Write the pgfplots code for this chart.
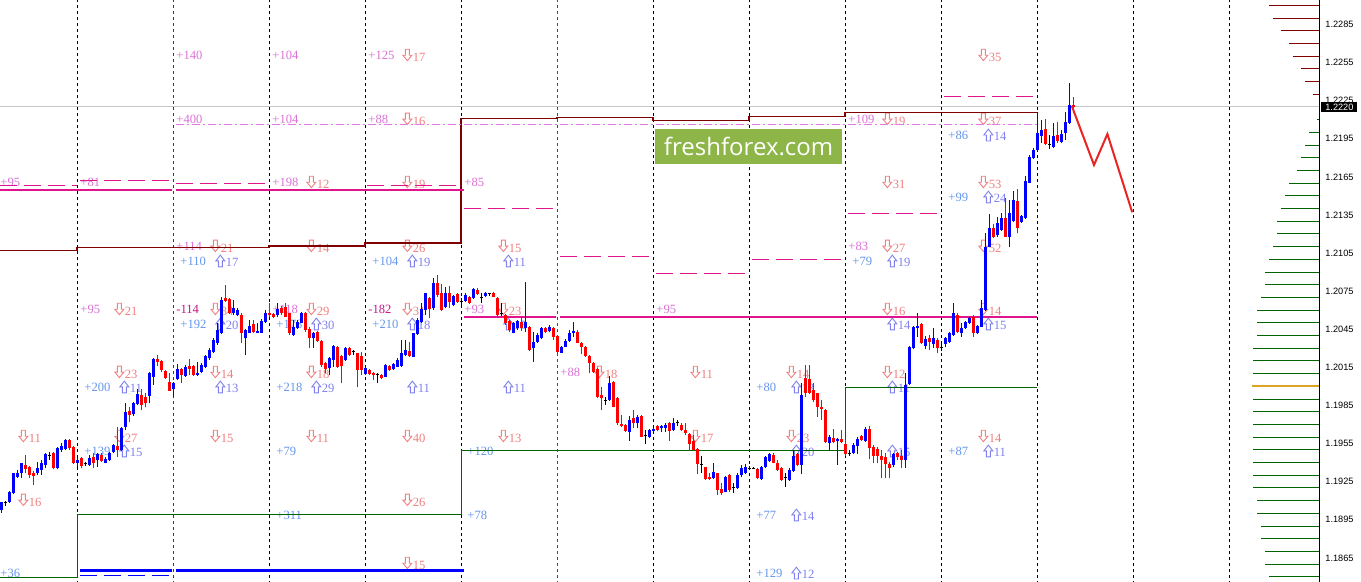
\documentclass[border=0pt]{standalone}
\usepackage{fontspec}
\setmainfont{Liberation Serif}
\newfontfamily\tickf{Liberation Sans}
\newfontfamily\wmf{Open Sans}
\usepackage{pgfplots}
\usepackage{pgfplotstable}
\pgfplotsset{compat=1.18}

\definecolor{cv}{HTML}{DA70D6}
\definecolor{cc}{HTML}{F08080}
\definecolor{cb}{HTML}{6495ED}
\definecolor{ca}{HTML}{8080F0}
\definecolor{cm}{HTML}{C71585}
\definecolor{mag}{HTML}{E0148C}
\definecolor{viol}{HTML}{E478E4}
\definecolor{mar}{HTML}{800000}
\definecolor{dg}{HTML}{006400}
\definecolor{wmc}{HTML}{8DB547}
\definecolor{gold}{HTML}{DAA520}

\newcommand{\labf}{\fontsize{6.3}{7}\selectfont}
\newcommand{\tickfont}{\tickf\fontsize{4.6}{5}\selectfont}
% hollow arrows drawn in front of the counts
\newcommand{\darr}{\tikz[baseline=0pt,x=1pt,y=1pt]\draw[cc,line width=0.45pt,line join=miter]
  (1.25,6)--(3.25,6)--(3.25,3)--(4.5,3)--(2.25,0.3)--(0,3)--(1.25,3)--cycle;\hspace{0.3pt}}
\newcommand{\uarr}{\tikz[baseline=0pt,x=1pt,y=1pt]\draw[ca,line width=0.45pt,line join=miter]
  (1.25,0)--(3.25,0)--(3.25,3)--(4.5,3)--(2.25,5.9)--(0,3)--(1.25,3)--cycle;\hspace{0.3pt}}

\tikzset{
  tv/.style={anchor=west, inner sep=0pt, font=\labf, text=cv},
  tc/.style={anchor=west, inner sep=0pt, font=\labf, text=cc},
  tb/.style={anchor=west, inner sep=0pt, font=\labf, text=cb},
  ta/.style={anchor=west, inner sep=0pt, font=\labf, text=ca},
  tm/.style={anchor=west, inner sep=0pt, font=\labf, text=cm},
  dsh/.style={mag, line width=0.5pt, dash pattern=on 8.5pt off 3.5pt},
}
\pgfplotsset{
  nomark/.style={only marks, mark=*, mark size=0pt, mark options={draw=none, fill=none}, forget plot},
}

% hourly bars: index, open, high, low, close
\pgfplotstableread{
i o h l c
0 1.19027 1.19092 1.19005 1.19092
1 1.19084 1.19100 1.19061 1.19084
2 1.19092 1.19179 1.19084 1.19171
3 1.19158 1.19321 1.19153 1.19316
4 1.19289 1.19342 1.19279 1.19321
5 1.19316 1.19399 1.19276 1.19394
6 1.19381 1.19460 1.19316 1.19347
7 1.19368 1.19373 1.19276 1.19302
8 1.19321 1.19336 1.19224 1.19295
9 1.19316 1.19407 1.19302 1.19360
10 1.19342 1.19420 1.19302 1.19399
11 1.19381 1.19473 1.19355 1.19465
12 1.19454 1.19486 1.19420 1.19454
13 1.19473 1.19486 1.19347 1.19355
14 1.19355 1.19525 1.19347 1.19513
15 1.19499 1.19552 1.19486 1.19531
16 1.19505 1.19583 1.19499 1.19578
17 1.19578 1.19583 1.19499 1.19513
18 1.19525 1.19531 1.19389 1.19394
19 1.19399 1.19434 1.19368 1.19420
20 1.19434 1.19447 1.19355 1.19373
21 1.19389 1.19405 1.19373 1.19389
22 1.19381 1.19460 1.19373 1.19434
23 1.19447 1.19473 1.19355 1.19399
24 1.19420 1.19478 1.19368 1.19468
25 1.19460 1.19473 1.19407 1.19415
26 1.19399 1.19442 1.19399 1.19426
27 1.19420 1.19486 1.19415 1.19473
28 1.19486 1.19547 1.19473 1.19539
29 1.19531 1.19679 1.19444 1.19499
30 1.19499 1.19678 1.19494 1.19670
31 1.19678 1.19867 1.19657 1.19801
32 1.19809 1.19840 1.19722 1.19775
33 1.19783 1.19880 1.19767 1.19867
34 1.19861 1.19977 1.19854 1.19940
35 1.19932 1.19977 1.19814 1.19854
36 1.19919 1.19946 1.19835 1.19867
37 1.19924 1.20116 1.19867 1.20103
38 1.20076 1.20221 1.20011 1.20213
39 1.20213 1.20247 1.20161 1.20194
40 1.20202 1.20208 1.20114 1.20129
41 1.20124 1.20129 1.20058 1.20064
42 1.20037 1.20103 1.19966 1.19966
43 1.19977 1.20037 1.19914 1.20029
44 1.20056 1.20176 1.20050 1.20135
45 1.20135 1.20145 1.20027 1.20090
46 1.20082 1.20172 1.20076 1.20153
47 1.20161 1.20213 1.20090 1.20135
48 1.20161 1.20169 1.20082 1.20090
49 1.20090 1.20194 1.20082 1.20108
50 1.20116 1.20183 1.20108 1.20169
51 1.20155 1.20250 1.20145 1.20240
52 1.20221 1.20302 1.20208 1.20287
53 1.20273 1.20379 1.20261 1.20365
54 1.20339 1.20497 1.20326 1.20444
55 1.20418 1.20706 1.20413 1.20680
56 1.20694 1.20798 1.20667 1.20675
57 1.20686 1.20694 1.20570 1.20576
58 1.20576 1.20680 1.20562 1.20615
59 1.20562 1.20615 1.20554 1.20602
60 1.20562 1.20580 1.20339 1.20418
61 1.20379 1.20450 1.20247 1.20444
62 1.20423 1.20523 1.20418 1.20476
63 1.20491 1.20523 1.20420 1.20431
64 1.20423 1.20502 1.20418 1.20439
65 1.20423 1.20531 1.20418 1.20517
66 1.20509 1.20602 1.20502 1.20580
67 1.20580 1.20657 1.20549 1.20562
68 1.20570 1.20580 1.20536 1.20549
69 1.20562 1.20654 1.20549 1.20607
70 1.20615 1.20633 1.20562 1.20576
71 1.20628 1.20654 1.20544 1.20549
72 1.20576 1.20580 1.20405 1.20418
73 1.20405 1.20523 1.20397 1.20470
74 1.20457 1.20523 1.20450 1.20509
75 1.20502 1.20588 1.20497 1.20580
76 1.20580 1.20588 1.20431 1.20444
77 1.20449 1.20470 1.20300 1.20379
78 1.20379 1.20431 1.20300 1.20418
79 1.20431 1.20439 1.20352 1.20360
80 1.20360 1.20365 1.20155 1.20169
81 1.20182 1.20194 1.20103 1.20135
82 1.20142 1.20234 1.20090 1.20221
83 1.20208 1.20326 1.20155 1.20318
84 1.20313 1.20318 1.20145 1.20155
85 1.20240 1.20247 1.20024 1.20161
86 1.20208 1.20313 1.20202 1.20300
87 1.20300 1.20313 1.20240 1.20247
88 1.20273 1.20287 1.20247 1.20273
89 1.20261 1.20266 1.19993 1.20129
90 1.20240 1.20271 1.20090 1.20129
91 1.20098 1.20150 1.20090 1.20142
92 1.20129 1.20137 1.20090 1.20098
93 1.20108 1.20116 1.20050 1.20090
94 1.20090 1.20103 1.20029 1.20090
95 1.20090 1.20098 1.20056 1.20064
96 1.20076 1.20176 1.20071 1.20169
97 1.20161 1.20169 1.20124 1.20129
98 1.20135 1.20187 1.20129 1.20176
99 1.20155 1.20221 1.20150 1.20208
100 1.20161 1.20365 1.20155 1.20266
101 1.20247 1.20365 1.20239 1.20287
102 1.20281 1.20352 1.20234 1.20240
103 1.20234 1.20423 1.20229 1.20418
104 1.20413 1.20536 1.20405 1.20523
105 1.20509 1.20654 1.20502 1.20607
106 1.20602 1.20738 1.20562 1.20733
107 1.20694 1.20702 1.20536 1.20607
108 1.20615 1.20851 1.20602 1.20812
109 1.20816 1.20877 1.20706 1.20720
110 1.20738 1.20806 1.20596 1.20602
111 1.20628 1.20785 1.20615 1.20733
112 1.20733 1.20790 1.20615 1.20667
113 1.20641 1.20720 1.20633 1.20712
114 1.20728 1.20733 1.20659 1.20667
115 1.20667 1.20694 1.20641 1.20667
116 1.20675 1.20733 1.20667 1.20720
117 1.20702 1.20712 1.20649 1.20654
118 1.20694 1.20772 1.20686 1.20764
119 1.20759 1.20772 1.20720 1.20728
120 1.20702 1.20733 1.20659 1.20702
121 1.20712 1.20746 1.20702 1.20738
122 1.20728 1.20738 1.20712 1.20728
123 1.20738 1.20746 1.20702 1.20706
124 1.20694 1.20702 1.20554 1.20562
125 1.20576 1.20660 1.20554 1.20576
126 1.20562 1.20570 1.20483 1.20497
127 1.20517 1.20523 1.20431 1.20444
128 1.20423 1.20509 1.20418 1.20497
129 1.20457 1.20523 1.20444 1.20517
130 1.20509 1.20549 1.20439 1.20457
131 1.20457 1.20825 1.20431 1.20509
132 1.20470 1.20476 1.20281 1.20287
133 1.20300 1.20431 1.20194 1.20352
134 1.20352 1.20418 1.20345 1.20405
135 1.20379 1.20470 1.20371 1.20457
136 1.20457 1.20470 1.20423 1.20431
137 1.20439 1.20483 1.20431 1.20470
138 1.20457 1.20470 1.20365 1.20392
139 1.20397 1.20405 1.20263 1.20271
140 1.20266 1.20318 1.20261 1.20313
141 1.20313 1.20371 1.20308 1.20360
142 1.20360 1.20444 1.20352 1.20423
143 1.20423 1.20509 1.20392 1.20439
144 1.20431 1.20444 1.20339 1.20344
145 1.20344 1.20352 1.20255 1.20313
146 1.20313 1.20318 1.20234 1.20240
147 1.20240 1.20247 1.20103 1.20187
148 1.20182 1.20194 1.20108 1.20116
149 1.20135 1.20142 1.19906 1.19914
150 1.19932 1.19998 1.19814 1.19906
151 1.19887 1.19919 1.19854 1.19887
152 1.19893 1.20082 1.19887 1.20029
153 1.20037 1.20045 1.19835 1.19840
154 1.19906 1.19914 1.19696 1.19709
155 1.19704 1.19775 1.19678 1.19688
156 1.19696 1.19704 1.19643 1.19651
157 1.19643 1.19767 1.19572 1.19735
158 1.19749 1.19814 1.19670 1.19709
159 1.19709 1.19775 1.19670 1.19757
160 1.19767 1.19775 1.19599 1.19604
161 1.19617 1.19657 1.19547 1.19617
162 1.19600 1.19665 1.19592 1.19657
163 1.19651 1.19670 1.19643 1.19662
164 1.19688 1.19696 1.19651 1.19657
165 1.19670 1.19696 1.19643 1.19688
166 1.19670 1.19709 1.19643 1.19696
167 1.19709 1.19722 1.19572 1.19651
168 1.19657 1.19749 1.19651 1.19714
169 1.19714 1.19735 1.19690 1.19714
170 1.19696 1.19709 1.19651 1.19657
171 1.19657 1.19709 1.19617 1.19631
172 1.19625 1.19635 1.19494 1.19547
173 1.19567 1.19617 1.19494 1.19499
174 1.19505 1.19513 1.19310 1.19389
175 1.19381 1.19452 1.19316 1.19381
176 1.19363 1.19368 1.19263 1.19268
177 1.19284 1.19316 1.19263 1.19268
178 1.19276 1.19394 1.19268 1.19329
179 1.19316 1.19321 1.19145 1.19184
180 1.19189 1.19242 1.19145 1.19158
181 1.19171 1.19295 1.19166 1.19289
182 1.19302 1.19310 1.19171 1.19184
183 1.19205 1.19242 1.19163 1.19205
184 1.19198 1.19316 1.19190 1.19302
185 1.19302 1.19381 1.19284 1.19355
186 1.19316 1.19389 1.19310 1.19368
187 1.19355 1.19373 1.19342 1.19355
188 1.19355 1.19368 1.19347 1.19355
189 1.19347 1.19355 1.19268 1.19276
190 1.19268 1.19373 1.19263 1.19368
191 1.19363 1.19452 1.19355 1.19442
192 1.19415 1.19478 1.19407 1.19468
193 1.19460 1.19473 1.19394 1.19399
194 1.19394 1.19420 1.19336 1.19342
195 1.19355 1.19363 1.19257 1.19263
196 1.19284 1.19321 1.19210 1.19284
197 1.19263 1.19355 1.19257 1.19342
198 1.19336 1.19499 1.19329 1.19452
199 1.19468 1.19478 1.19373 1.19381
200 1.19381 1.20024 1.19310 1.19932
201 1.20064 1.20169 1.19919 1.19946
202 1.20056 1.20169 1.19940 1.19951
203 1.19972 1.20024 1.19880 1.19893
204 1.19946 1.19951 1.19761 1.19840
205 1.19840 1.19893 1.19735 1.19820
206 1.19814 1.19820 1.19557 1.19565
207 1.19557 1.19617 1.19494 1.19600
208 1.19592 1.19662 1.19552 1.19565
209 1.19573 1.19592 1.19381 1.19584
210 1.19584 1.19654 1.19557 1.19565
211 1.19547 1.19578 1.19452 1.19468
212 1.19473 1.19499 1.19452 1.19473
213 1.19478 1.19552 1.19468 1.19539
214 1.19531 1.19599 1.19468 1.19584
215 1.19610 1.19617 1.19573 1.19578
216 1.19573 1.19683 1.19565 1.19662
217 1.19662 1.19688 1.19426 1.19513
218 1.19525 1.19539 1.19394 1.19452
219 1.19505 1.19525 1.19394 1.19452
220 1.19452 1.19499 1.19276 1.19420
221 1.19447 1.19473 1.19276 1.19389
222 1.19389 1.19407 1.19276 1.19355
223 1.19381 1.19478 1.19368 1.19468
224 1.19473 1.19486 1.19420 1.19447
225 1.19452 1.19499 1.19355 1.19420
226 1.19420 1.20103 1.19355 1.20011
227 1.20019 1.20318 1.20011 1.20308
228 1.20300 1.20476 1.20292 1.20465
229 1.20457 1.20576 1.20392 1.20476
230 1.20491 1.20497 1.20334 1.20339
231 1.20318 1.20397 1.20292 1.20371
232 1.20379 1.20405 1.20284 1.20352
233 1.20334 1.20457 1.20300 1.20379
234 1.20365 1.20379 1.20261 1.20300
235 1.20308 1.20334 1.20279 1.20308
236 1.20334 1.20392 1.20308 1.20379
237 1.20352 1.20428 1.20344 1.20418
238 1.20405 1.20654 1.20397 1.20576
239 1.20562 1.20576 1.20418 1.20431
240 1.20418 1.20497 1.20392 1.20457
241 1.20457 1.20517 1.20449 1.20509
242 1.20497 1.20549 1.20489 1.20536
243 1.20549 1.20562 1.20392 1.20418
244 1.20418 1.20483 1.20413 1.20476
245 1.20470 1.20680 1.20465 1.20615
246 1.20602 1.21205 1.20596 1.21100
247 1.21100 1.21358 1.21095 1.21245
248 1.21245 1.21279 1.21166 1.21174
249 1.21192 1.21336 1.21179 1.21284
250 1.21231 1.21363 1.21226 1.21324
251 1.21324 1.21481 1.21174 1.21179
252 1.21174 1.21468 1.21095 1.21363
253 1.21305 1.21541 1.21297 1.21468
254 1.21462 1.21552 1.21205 1.21245
255 1.21297 1.21350 1.21289 1.21342
256 1.21324 1.21657 1.21316 1.21620
257 1.21604 1.21822 1.21599 1.21804
258 1.21796 1.21875 1.21788 1.21861
259 1.21861 1.22163 1.21856 1.21993
260 1.21971 1.22098 1.21914 1.22019
261 1.22024 1.22103 1.21901 1.21909
262 1.21901 1.21980 1.21867 1.21901
263 1.21883 1.22076 1.21875 1.21972
264 1.21980 1.22084 1.21919 1.21935
265 1.21927 1.22019 1.21919 1.21988
266 1.21993 1.22163 1.21940 1.22084
267 1.22076 1.22386 1.22066 1.22216
268 1.22216 1.22281 1.22150 1.22202
}\candles

% horizontal levels at the right edge: price, first bar index
\pgfplotstableread{
p xl
1.2300 317
1.2290 318
1.2280 320
1.2270 322
1.2260 323
1.2250 325
1.2240 326
1.2230 328
}\uplevels
\pgfplotstableread{
p xl
1.2210 329.1
1.2200 327
1.2190 326
1.2180 325
1.2170 324
1.2160 322
1.2150 321
1.2140 320
1.2130 319
1.2120 319
1.2110 318
1.2100 317
1.2090 316
1.2080 316
1.2070 315
1.2060 314
1.2050 314
1.2040 314
1.2030 313
1.2020 313
1.2010 313
1.1990 313
1.1980 313
1.1970 313
1.1960 313
1.1950 313
1.1940 313
1.1930 313
1.1920 313
1.1910 314
1.1900 314
1.1890 315
1.1880 315
1.1870 316
1.1860 316
1.1850 317
}\dnlevels

\begin{document}
\begin{tikzpicture}
\useasboundingbox (0,0) rectangle (680.5pt,291pt);
\begin{axis}[
  at={(0,0)}, anchor=south west,
  scale only axis, width=659.65pt, height=291pt,
  xmin=-0.25, xmax=329.575, ymin=1.184598, ymax=1.230425,
  axis x line=none, axis y line=right,
  y axis line style={-, black, line width=0.5pt},
  ytick={1.1865,1.1895,1.1925,1.1955,1.1985,1.2015,1.2045,1.2075,1.2105,1.2135,1.2165,1.2195,1.2225,1.2255,1.2285},
  major tick length=0pt, scaled y ticks=false,
  yticklabel style={font=\tickfont, anchor=west, inner sep=0pt, xshift=2.85pt,
    /pgf/number format/.cd, fixed, fixed zerofill, precision=4, assume math mode=true},
  clip mode=individual,
]
% day separators
\addplot[nomark, error bars/.cd, y dir=plus, y explicit, error mark=none,
  error bar style={black, line width=0.5pt, dash pattern=on 1.5pt off 1.5pt}]
  coordinates {(19,1.184) +- (0,0.05) (67,1.184) +- (0,0.05) (91,1.184) +- (0,0.05) (115,1.184) +- (0,0.05)
  (163,1.184) +- (0,0.05) (187,1.184) +- (0,0.05) (211,1.184) +- (0,0.05) (235,1.184) +- (0,0.05)
  (259,1.184) +- (0,0.05) (283,1.184) +- (0,0.05) (307,1.184) +- (0,0.05)};
\addplot[dg, line width=0.5pt, dash pattern=on 1.5pt off 1.5pt] coordinates {(43,1.184) (43,1.234)};
\addplot[red, line width=0.5pt, dash pattern=on 1.5pt off 1.5pt] coordinates {(139,1.184) (139,1.234)};
\addplot[gray!45, line width=0.5pt] coordinates {(-0.25,1.2220) (329.575,1.2220)};

% labels
\node[tv] at (axis cs:43.75,1.22609) {+140};
\node[tv] at (axis cs:67.75,1.22609) {+104};
\node[tv] at (axis cs:91.75,1.22609) {+125};
\node[tc] at (axis cs:100.25,1.22609) {\darr17};
\node[tc] at (axis cs:244.25,1.22609) {\darr35};
\node[tv] at (axis cs:43.75,1.22106) {+400};
\node[tv] at (axis cs:67.75,1.22106) {+104};
\node[tv] at (axis cs:91.75,1.22106) {+88};
\node[tc] at (axis cs:100.25,1.22106) {\darr16};
\node[tv] at (axis cs:211.75,1.22106) {+109};
\node[tc] at (axis cs:220.25,1.22106) {\darr19};
\node[tc] at (axis cs:244.25,1.22106) {\darr37};
\node[tb] at (axis cs:236.75,1.21979) {+86};
\node[ta] at (axis cs:245.5,1.21979) {\uarr14};
\node[tv] at (axis cs:-0.25,1.21609) {+95};
\node[tv] at (axis cs:19.75,1.21609) {+81};
\node[tv] at (axis cs:67.75,1.21609) {+198};
\node[tc] at (axis cs:76.25,1.21609) {\darr12};
\node[tc] at (axis cs:100.25,1.21609) {\darr19};
\node[tv] at (axis cs:115.75,1.21609) {+85};
\node[tc] at (axis cs:220.25,1.21609) {\darr31};
\node[tc] at (axis cs:244.25,1.21609) {\darr53};
\node[tb] at (axis cs:236.75,1.21491) {+99};
\node[ta] at (axis cs:245.5,1.21491) {\uarr24};
\node[tv] at (axis cs:43.75,1.21106) {+114};
\node[tc] at (axis cs:52.25,1.21106) {\darr21};
\node[tc] at (axis cs:76.25,1.21106) {\darr14};
\node[tc] at (axis cs:100.25,1.21106) {\darr26};
\node[tc] at (axis cs:124.25,1.21106) {\darr15};
\node[tv] at (axis cs:211.75,1.21106) {+83};
\node[tc] at (axis cs:220.25,1.21106) {\darr27};
\node[tc] at (axis cs:244.25,1.21106) {\darr52};
\node[tb] at (axis cs:44.75,1.20987) {+110};
\node[ta] at (axis cs:53.5,1.20987) {\uarr17};
\node[tb] at (axis cs:92.75,1.20987) {+104};
\node[ta] at (axis cs:101.5,1.20987) {\uarr19};
\node[ta] at (axis cs:125.5,1.20987) {\uarr11};
\node[tb] at (axis cs:212.75,1.20987) {+79};
\node[ta] at (axis cs:221.5,1.20987) {\uarr19};
\node[tv] at (axis cs:19.75,1.20609) {+95};
\node[tc] at (axis cs:28.25,1.20609) {\darr21};
\node[tm] at (axis cs:43.75,1.20609) {-114};
\node[tc] at (axis cs:52.25,1.20609) {\darr34};
\node[tv] at (axis cs:67.75,1.20609) {+118};
\node[tc] at (axis cs:76.25,1.20609) {\darr29};
\node[tm] at (axis cs:91.75,1.20609) {-182};
\node[tc] at (axis cs:100.25,1.20609) {\darr31};
\node[tv] at (axis cs:115.75,1.20609) {+93};
\node[tc] at (axis cs:124.25,1.20609) {\darr23};
\node[tv] at (axis cs:163.75,1.20609) {+95};
\node[tc] at (axis cs:220.25,1.20609) {\darr16};
\node[tc] at (axis cs:244.25,1.20609) {\darr14};
\node[tb] at (axis cs:44.75,1.20491) {+192};
\node[ta] at (axis cs:53.5,1.20491) {\uarr20};
\node[tb] at (axis cs:68.75,1.20491) {+178};
\node[ta] at (axis cs:77.5,1.20491) {\uarr30};
\node[tb] at (axis cs:92.75,1.20491) {+210};
\node[ta] at (axis cs:101.5,1.20491) {\uarr18};
\node[ta] at (axis cs:125.5,1.20491) {\uarr15};
\node[ta] at (axis cs:221.5,1.20491) {\uarr14};
\node[ta] at (axis cs:245.5,1.20491) {\uarr15};
\node[tc] at (axis cs:28.25,1.20113) {\darr23};
\node[tc] at (axis cs:52.25,1.20113) {\darr14};
\node[tc] at (axis cs:76.25,1.20113) {\darr18};
\node[tv] at (axis cs:139.75,1.20113) {+88};
\node[tc] at (axis cs:148.25,1.20113) {\darr18};
\node[tc] at (axis cs:172.25,1.20113) {\darr11};
\node[tc] at (axis cs:196.25,1.20113) {\darr14};
\node[tc] at (axis cs:220.25,1.20113) {\darr12};
\node[tb] at (axis cs:20.75,1.19995) {+200};
\node[ta] at (axis cs:29.5,1.19995) {\uarr11};
\node[ta] at (axis cs:53.5,1.19995) {\uarr13};
\node[tb] at (axis cs:68.75,1.19995) {+218};
\node[ta] at (axis cs:77.5,1.19995) {\uarr29};
\node[ta] at (axis cs:101.5,1.19995) {\uarr11};
\node[ta] at (axis cs:125.5,1.19995) {\uarr11};
\node[tb] at (axis cs:188.75,1.19995) {+80};
\node[ta] at (axis cs:197.5,1.19995) {\uarr13};
\node[ta] at (axis cs:221.5,1.19995) {\uarr11};
\node[tc] at (axis cs:4.25,1.19609) {\darr11};
\node[tc] at (axis cs:28.25,1.19609) {\darr27};
\node[tc] at (axis cs:52.25,1.19609) {\darr15};
\node[tc] at (axis cs:76.25,1.19609) {\darr11};
\node[tc] at (axis cs:100.25,1.19609) {\darr40};
\node[tc] at (axis cs:124.25,1.19609) {\darr13};
\node[tc] at (axis cs:172.25,1.19609) {\darr17};
\node[tc] at (axis cs:196.25,1.19609) {\darr23};
\node[tc] at (axis cs:244.25,1.19609) {\darr14};
\node[tb] at (axis cs:20.75,1.19491) {+139};
\node[ta] at (axis cs:29.5,1.19491) {\uarr15};
\node[tb] at (axis cs:68.75,1.19491) {+79};
\node[tb] at (axis cs:116.5,1.19491) {+120};
\node[ta] at (axis cs:197.5,1.19491) {\uarr20};
\node[ta] at (axis cs:221.5,1.19491) {\uarr15};
\node[tb] at (axis cs:236.75,1.19491) {+87};
\node[ta] at (axis cs:245.5,1.19491) {\uarr11};
\node[tc] at (axis cs:4.25,1.19106) {\darr16};
\node[tc] at (axis cs:100.25,1.19106) {\darr26};
\node[tb] at (axis cs:68.75,1.18987) {+311};
\node[tb] at (axis cs:116.5,1.18987) {+78};
\node[tb] at (axis cs:188.75,1.18987) {+77};
\node[ta] at (axis cs:197.5,1.18987) {\uarr14};
\node[tc] at (axis cs:100.25,1.18609) {\darr15};
\node[tb] at (axis cs:-0.25,1.18530) {+36};
\node[tb] at (axis cs:188.75,1.18530) {+129};
\node[ta] at (axis cs:197.5,1.18530) {\uarr12};

% daily levels
\addplot[mar, line width=0.75pt] coordinates {(-0.25,1.21070) (19,1.21070) (19,1.21095) (67,1.21095) (67,1.21106) (91,1.21106) (91,1.21129) (115,1.21129) (115,1.22111) (139,1.22111) (139,1.22119) (163,1.22119) (163,1.22095) (187,1.22095) (187,1.22124) (211,1.22124) (211,1.22158) (259,1.22158)};
\addplot[dg, line width=0.5pt] coordinates {(-0.25,1.18497) (19,1.18497) (19,1.18993) (115,1.18993) (115,1.19494) (211,1.19494) (211,1.19993) (259,1.19993)};
\addplot[mag, line width=1pt] coordinates {(-0.25,1.21546) (42.75,1.21546)};
\addplot[mag, line width=1pt] coordinates {(43.75,1.21546) (115.75,1.21546)};
\addplot[mag, line width=1pt] coordinates {(115.75,1.20549) (138.75,1.20549)};
\addplot[mag, line width=1pt] coordinates {(139.75,1.20549) (259,1.20549)};
\addplot[dsh] coordinates {(-0.25,1.21578) (18.9,1.21578)};
\addplot[dsh] coordinates {(19.75,1.21625) (42.25,1.21625)};
\addplot[dsh] coordinates {(43.75,1.21599) (66.5,1.21599)};
\addplot[dsh] coordinates {(67.75,1.21554) (90.75,1.21554)};
\addplot[dsh] coordinates {(91.5,1.21578) (114.75,1.21578)};
\addplot[dsh] coordinates {(115.75,1.21402) (138.75,1.21402)};
\addplot[dsh] coordinates {(139.75,1.21024) (162.75,1.21024)};
\addplot[dsh] coordinates {(163.75,1.20891) (186.75,1.20891)};
\addplot[dsh] coordinates {(187.75,1.21003) (211,1.21003)};
\addplot[dsh] coordinates {(211.75,1.21365) (234.75,1.21365)};
\addplot[dsh] coordinates {(235.75,1.22284) (258.25,1.22284)};
\addplot[viol, line width=0.5pt, dash pattern=on 4pt off 1.5pt on 1pt off 1.5pt] coordinates {(43.75,1.22064) (259,1.22064)};
\addplot[blue, line width=1.25pt] coordinates {(19.75,1.18549) (42.75,1.18549)};
\addplot[blue, line width=1.25pt] coordinates {(43.75,1.18549) (115.75,1.18549)};
\addplot[blue, line width=0.5pt, dash pattern=on 8.5pt off 3.5pt] coordinates {(19.75,1.18513) (42.75,1.18513)};

% right-edge levels
\addplot[nomark, error bars/.cd, x dir=plus, x explicit, error mark=none,
  error bar style={mar, line width=0.5pt}]
  table[x=xl, y=p, x error plus expr={329.575-\thisrow{xl}}] \uplevels;
\addplot[nomark, error bars/.cd, x dir=plus, x explicit, error mark=none,
  error bar style={dg, line width=0.5pt}]
  table[x=xl, y=p, x error plus expr={329.575-\thisrow{xl}}] \dnlevels;
\addplot[gold, line width=1pt] coordinates {(312.75,1.2000) (329.575,1.2000)};

% candles: bull
\addplot[nomark,
  restrict expr to domain={\thisrow{c}-\thisrow{o}}{0.0000001:1},
  error bars/.cd, y dir=plus, y explicit, error mark=none, error bar style={blue, line width=0.5pt}]
  table[x=i, y=l, y error plus expr={\thisrow{h}-\thisrow{l}}] \candles;
\addplot[nomark,
  restrict expr to domain={\thisrow{c}-\thisrow{o}}{0.0000001:1},
  error bars/.cd, y dir=plus, y explicit, error mark=none, error bar style={blue, line width=1.5pt}]
  table[x=i, y=o, y error plus expr={max(\thisrow{c}-\thisrow{o},0.00006)}] \candles;
% bear
\addplot[nomark,
  restrict expr to domain={\thisrow{c}-\thisrow{o}}{-1:-0.0000001},
  error bars/.cd, y dir=plus, y explicit, error mark=none, error bar style={red, line width=0.5pt}]
  table[x=i, y=l, y error plus expr={\thisrow{h}-\thisrow{l}}] \candles;
\addplot[nomark,
  restrict expr to domain={\thisrow{c}-\thisrow{o}}{-1:-0.0000001},
  error bars/.cd, y dir=plus, y explicit, error mark=none, error bar style={red, line width=1.5pt}]
  table[x=i, y=c, y error plus expr={max(\thisrow{o}-\thisrow{c},0.00006)}] \candles;
% doji
\addplot[only marks, mark=-, mark size=0.75pt, black, mark options={line width=0.5pt}, forget plot,
  restrict expr to domain={\thisrow{c}-\thisrow{o}}{-0.0000001:0.0000001},
  error bars/.cd, y dir=both, y explicit, error mark=none, error bar style={black, line width=0.5pt}]
  table[x=i, y=c, y error plus expr={\thisrow{h}-\thisrow{c}}, y error minus expr={\thisrow{c}-\thisrow{l}}] \candles;

% projected path
\addplot[color={rgb,255:red,235;green,35;blue,35}, line width=1pt] coordinates {(267.7,1.22208) (273.25,1.21743) (276.6,1.21987) (282.8,1.21371)};

\node[fill=wmc, text=white, minimum width=93.5pt, minimum height=17.5pt, inner sep=0pt,
  font=\wmf\fontsize{12}{14}\selectfont] at (axis cs:186.9,1.21887) {freshforex.com};
\node[fill=black, text=white, font=\tickfont, inner sep=0pt, minimum width=18pt, minimum height=4.7pt,
  anchor=west, xshift=0.85pt] at (axis cs:329.575,1.2220) {1.2220};
\end{axis}
\end{tikzpicture}
\end{document}
